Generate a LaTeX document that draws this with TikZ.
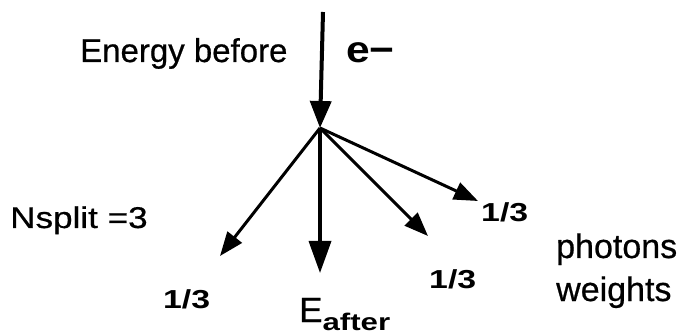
\documentclass[tikz,border=0pt]{standalone}
\usepackage{fontspec}
\setmainfont{Liberation Sans}[FakeBold=0.6]
\newfontfamily\stretchA[FakeStretch=1.17]{Liberation Sans}
\newfontfamily\stretchB[FakeStretch=1.3]{Liberation Sans}
\newfontfamily\stretchC[FakeStretch=1.15]{Liberation Sans}
\newfontfamily\plainheavy[FakeBold=0.6]{Liberation Sans}
\newfontfamily\stretchAheavy[FakeStretch=1.17,FakeBold=0.6]{Liberation Sans}
\usetikzlibrary{arrows.meta}
\begin{document}
\begin{tikzpicture}[x=1pt,y=-1pt,
  lbl/.style={inner sep=0pt,anchor=base west},
  wt/.style={lbl,font=\stretchB\bfseries\fontsize{26}{28}\selectfont},
  inarrow/.style={line width=4pt,-{Triangle[length=27pt,width=21pt]}},
  outarrow/.style={line width=3pt,-{Triangle[length=24pt,width=18pt]}},
  downarrow/.style={line width=3.5pt,-{Triangle[length=32pt,width=22pt]}}]
\useasboundingbox (0,0) rectangle (684,336);
\coordinate (top) at (323,12);
\coordinate (v) at (320,128);
\coordinate (ll) at (220,256);
\coordinate (d) at (320,273);
\coordinate (dr) at (428,236);
\coordinate (r) at (478,201);
\draw[inarrow] (top) -- (v);
\draw[outarrow] (v) -- (ll);
\draw[downarrow] (v) -- (d);
\draw[outarrow] (v) -- (dr);
\draw[outarrow] (v) -- (r);
\node[lbl,font=\plainheavy\fontsize{33}{36}\selectfont] (eb) at (80,62) {Energy before};
\node[lbl,font=\stretchC\bfseries\fontsize{37}{40}\selectfont] (em) at (346,63) {e−};
\node[lbl,font=\stretchAheavy\fontsize{30}{32}\selectfont] (ns) at (10,228) {Nsplit =3};
\node[wt] (w1) at (163,308) {1/3};
\node[wt] (w2) at (429,288) {1/3};
\node[wt] (w3) at (481,222) {1/3};
\node[lbl,font=\plainheavy\fontsize{34}{36}\selectfont] (ph) at (556,258) {photons};
\node[lbl,font=\plainheavy\fontsize{34}{36}\selectfont] (wg) at (556,301) {weights};
\node[lbl,font=\plainheavy\fontsize{35}{36}\selectfont] (ea) at (299,322) {E\raisebox{-8pt}{\stretchB\bfseries\fontsize{24}{26}\selectfont after}};
\end{tikzpicture}
\end{document}
